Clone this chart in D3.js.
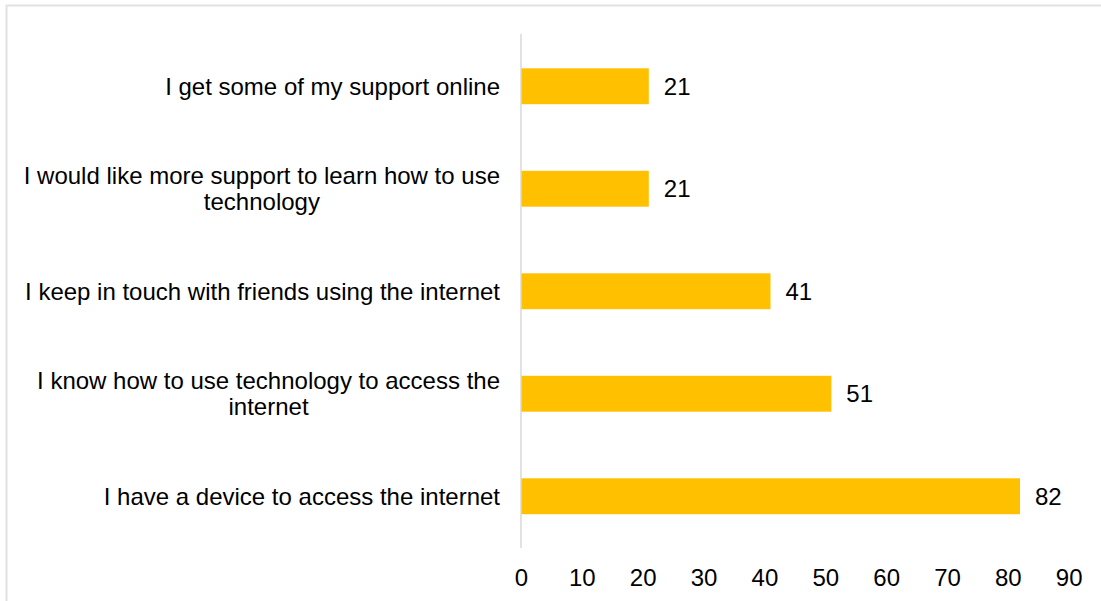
<!DOCTYPE html>
<html>
<head>
<meta charset="utf-8">
<script src="https://cdn.jsdelivr.net/npm/d3@7"></script>
<style>
  html, body { margin: 0; padding: 0; background: #fff; }
  svg { display: block; font-family: "Liberation Sans", Arial, sans-serif; }
</style>
</head>
<body>
<svg id="chart" width="1101" height="601"></svg>
<script>
// Survey statements (top to bottom) and number of respondents agreeing
const categories = [
  "I get some of my support online",
  "I would like more support to learn how to use technology",
  "I keep in touch with friends using the internet",
  "I know how to use technology to access the internet",
  "I have a device to access the internet"
];
const values = [21, 21, 41, 51, 82];
const tickValues = [0, 10, 20, 30, 40, 50, 60, 70, 80, 90];

const svg = d3.select("#chart");
const fontSize = 24;

// Outer frame of the chart area
svg.append("rect")
  .attr("x", 6.5).attr("y", 5.5)
  .attr("width", 1200).attr("height", 700)
  .attr("fill", "none")
  .attr("stroke", "#e2e2e2")
  .attr("stroke-width", 2);

const x = d3.scaleLinear().domain([0, 90]).range([521, 1068.7]);
const y = d3.scaleBand().domain(categories).range([35, 547.5]).paddingInner(0.65).paddingOuter(0.325);

// Bars
svg.append("g").selectAll("rect")
  .data(categories)
  .join("rect")
  .attr("x", x(0))
  .attr("y", d => y(d))
  .attr("width", (d, i) => x(values[i]) - x(0))
  .attr("height", y.bandwidth())
  .attr("fill", "#FFC000");

// Vertical category axis line
svg.append("line")
  .attr("x1", x(0)).attr("x2", x(0))
  .attr("y1", 34).attr("y2", 548)
  .attr("stroke", "#d9d9d9")
  .attr("stroke-width", 1.5);

// Value labels at the bar ends
svg.append("g").selectAll("text")
  .data(categories)
  .join("text")
  .attr("x", (d, i) => x(values[i]) + 15)
  .attr("y", d => y(d) + y.bandwidth() / 2)
  .attr("dy", "0.35em")
  .attr("font-size", fontSize)
  .attr("fill", "#000")
  .text((d, i) => values[i]);

// Category labels, wrapped and centred within a right-aligned block
const labelRight = 500;
const maxWidth = 490;
const lineHeight = 26;
const labels = svg.append("g");
categories.forEach(cat => {
  const t = labels.append("text")
    .attr("font-size", fontSize)
    .attr("fill", "#000")
    .attr("text-anchor", "middle");
  const words = cat.split(" ");
  const lines = [];
  let current = [];
  const probe = t.append("tspan");
  words.forEach(w => {
    const attempt = current.concat(w).join(" ");
    probe.text(attempt);
    if (probe.node().getComputedTextLength() > maxWidth && current.length) {
      lines.push(current.join(" "));
      current = [w];
    } else {
      current.push(w);
    }
  });
  lines.push(current.join(" "));
  let widest = 0;
  lines.forEach(l => {
    probe.text(l);
    widest = Math.max(widest, probe.node().getComputedTextLength());
  });
  probe.remove();
  const cx = labelRight - widest / 2;
  const cy = y(cat) + y.bandwidth() / 2;
  const startY = cy - (lines.length - 1) * lineHeight / 2;
  lines.forEach((l, i) => {
    t.append("tspan")
      .attr("x", cx)
      .attr("y", startY + i * lineHeight)
      .attr("dy", "0.35em")
      .text(l);
  });
});

// Value axis along the bottom (labels only)
const xAxis = d3.axisBottom(x).tickValues(tickValues).tickSize(0).tickPadding(0);
const ax = svg.append("g")
  .attr("transform", "translate(0,577.5)")
  .call(xAxis);
ax.select(".domain").remove();
ax.selectAll("text")
  .attr("font-size", fontSize)
  .attr("font-family", "Liberation Sans, Arial, sans-serif")
  .attr("fill", "#000")
  .attr("dy", "0.35em");
</script>
</body>
</html>
